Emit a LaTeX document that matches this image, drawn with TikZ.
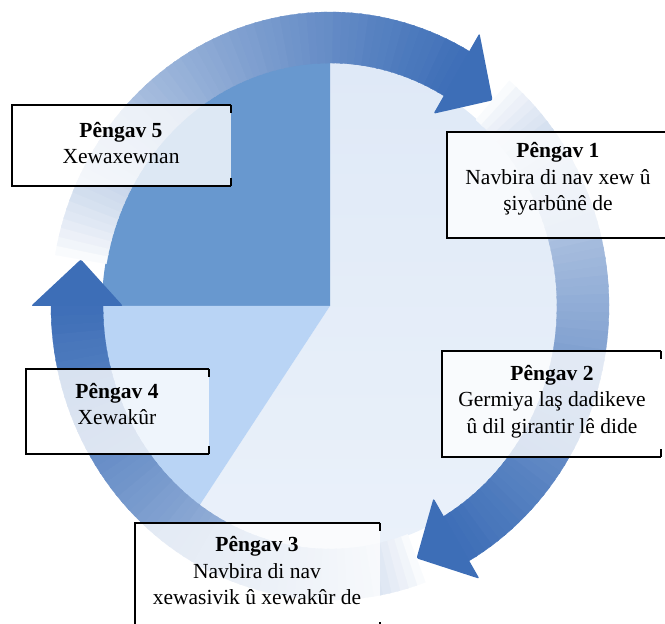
\documentclass[tikz,border=0pt]{standalone}
\usepackage{fontspec}
\setmainfont{Liberation Serif}
\definecolor{pielight}{HTML}{DFE9F7}
\definecolor{pielightb}{HTML}{EAF1FA}
\definecolor{piedark}{HTML}{6898CF}
\definecolor{pieslice}{HTML}{B9D4F5}
\definecolor{arrowdark}{HTML}{3D6EB7}
\tikzset{
  boxsty/.style={inner sep=0pt, outer sep=0pt, fill=white, fill opacity=0.78, draw=none},
  txtsty/.style={inner sep=0pt, align=center, font=\fontsize{21.5}{26.5}\selectfont},
  border/.style={line width=1.6pt, black},
}
\newcommand\ringarrow[2]{%
  \foreach \i in {0,...,59}{%
    \pgfmathsetmacro\aa{#1-(#1-#2)*\i/60}%
    \pgfmathsetmacro\ab{#1-(#1-#2)*(\i+1)/60-0.5}%
    \pgfmathtruncatemacro\pc{100*((\i+0.5)/60)^0.7}%
    \filldraw[arrowdark!\pc!white, line width=0.3pt, line join=round] ({330+279*cos(\aa)},{318+294*sin(\aa)})
      arc[start angle=\aa, end angle=\ab, x radius=279, y radius=294]
      -- ({330+227*cos(\ab)},{318+243*sin(\ab)})
      arc[start angle=\ab, end angle=\aa, x radius=227, y radius=243] -- cycle;
  }%
  \fill[arrowdark, rounded corners=2pt] ({330+299*cos(#2)},{318+315*sin(#2)})
    -- ({330+253*cos(#2-10)},{318+268.5*sin(#2-10)})
    -- ({330+207*cos(#2)},{318+222*sin(#2)}) -- cycle;
}
\begin{document}
\begin{tikzpicture}[x=1pt,y=1pt]
\useasboundingbox (0,0) rectangle (665,624);
\coordinate (C) at (330,318);
% pie
\shade[top color=pielight, bottom color=pielightb] (C) -- ++(0,244)
  arc[start angle=90, end angle=-125, x radius=228, y radius=244] -- cycle;
\fill[piedark] (C) -- ++(0,244)
  arc[start angle=90, end angle=180, x radius=228, y radius=244] -- cycle;
\fill[pieslice] (C) -- ++(-228,0)
  arc[start angle=180, end angle=235, x radius=228, y radius=244] -- cycle;
% arrows
\ringarrow{170}{60}
\ringarrow{50}{-60}
\ringarrow{290}{180}
% boxes
\node[boxsty, minimum width=219, minimum height=81] (b5) at (121.5,478.5) {};
\node[boxsty, minimum width=238, minimum height=106] (b1) at (566,439) {};
\node[boxsty, minimum width=219, minimum height=106] (b2) at (551.5,220) {};
\node[boxsty, minimum width=245, minimum height=107] (b3) at (257.5,47.5) {};
\node[boxsty, minimum width=183, minimum height=85] (b4) at (117.5,212.5) {};
\foreach \b in {b5,b1,b2,b3,b4}{
  \draw[border] (\b.north east) -- (\b.north west) -- (\b.south west) -- (\b.south east);
  \draw[border] (\b.north east) -- ++(0,-8);
  \draw[border] (\b.south east) -- ++(0,8);
}
% texts
\node[txtsty] (t5) at (121,481) {\textbf{Pêngav 5}\\Xewaxewnan};
\node[txtsty] (t1) at (558,445) {\textbf{Pêngav 1}\\Navbira di nav xew û\\şiyarbûnê de};
\node[txtsty] (t2) at (552,222.5) {\textbf{Pêngav 2}\\Germiya laş dadikeve\\û dil girantir lê dide};
\node[txtsty] (t3) at (257,53) {\textbf{Pêngav 3}\\Navbira di nav\\xewasivik û xewakûr de};
\node[txtsty] (t4) at (117,220) {\textbf{Pêngav 4}\\Xewakûr};
\end{tikzpicture}
\end{document}
